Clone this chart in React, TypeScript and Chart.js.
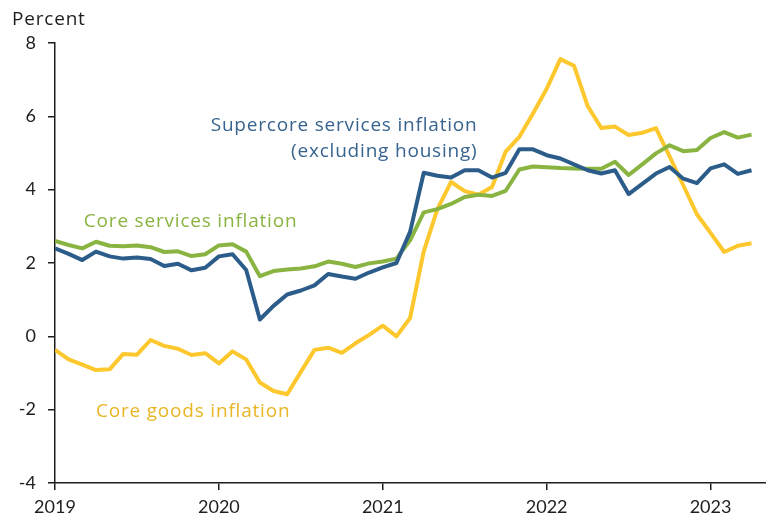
import React, { useEffect, useRef } from "react";
import { Chart, registerables } from "chart.js";

Chart.register(...registerables);

// Monthly observations, Jan 2019 .. Apr 2023
const startYear = 2019;
const monthCount = 52;

const supercore = [
  2.40, 2.25, 2.08, 2.31, 2.18, 2.12, 2.15, 2.11, 1.92, 1.98, 1.80, 1.87,
  2.18, 2.24, 1.81, 0.46, 0.83, 1.14, 1.25, 1.39, 1.70, 1.63, 1.57, 1.74,
  1.88, 2.00, 2.85, 4.46, 4.38, 4.33, 4.53, 4.53, 4.33, 4.46, 5.10, 5.10,
  4.94, 4.85, 4.69, 4.53, 4.44, 4.53, 3.88, 4.16, 4.44, 4.62, 4.30, 4.18,
  4.58, 4.69, 4.43, 4.53,
];

const coreServices = [
  2.60, 2.49, 2.40, 2.58, 2.47, 2.46, 2.48, 2.43, 2.30, 2.32, 2.19, 2.24,
  2.48, 2.51, 2.31, 1.64, 1.78, 1.82, 1.85, 1.91, 2.04, 1.98, 1.89, 1.99,
  2.04, 2.12, 2.62, 3.38, 3.47, 3.61, 3.80, 3.86, 3.83, 3.97, 4.55, 4.63,
  4.61, 4.59, 4.58, 4.57, 4.57, 4.76, 4.40, 4.69, 4.99, 5.21, 5.05, 5.08,
  5.41, 5.57, 5.42, 5.50,
];

const coreGoods = [
  -0.37, -0.63, -0.77, -0.92, -0.90, -0.48, -0.50, -0.10, -0.26, -0.34, -0.51, -0.46,
  -0.74, -0.41, -0.63, -1.26, -1.49, -1.58, -0.97, -0.37, -0.31, -0.45, -0.19, 0.04,
  0.29, 0.00, 0.50, 2.32, 3.47, 4.21, 3.96, 3.86, 4.07, 5.04, 5.44, 6.08,
  6.75, 7.56, 7.38, 6.28, 5.68, 5.72, 5.49, 5.55, 5.68, 4.91, 4.12, 3.33,
  2.82, 2.30, 2.47, 2.54,
];

const yTicks = [-4, -2, 0, 2, 4, 6, 8];
const xTicks = [2019, 2020, 2021, 2022, 2023];
const yAxisTitle = "Percent";

const BLUE = "#2c5d8a";
const GREEN = "#8ab441";
const YELLOW = "#fdc72e";
const BLUE_TEXT = "#36648f";
const GREEN_TEXT = "#8ab441";
const YELLOW_TEXT = "#e8b524";
const TEXT = "#1e1e1e";
const FONT = "Lato";
const LABEL_FONT = "'Open Sans'";

const seriesLabels = [
  { text: "Supercore services inflation", x: 2021.578, y: 5.75, align: "right", color: BLUE_TEXT },
  { text: "(excluding housing)", x: 2021.578, y: 5.04, align: "right", color: BLUE_TEXT },
  { text: "Core services inflation", x: 2019.176, y: 3.12, align: "left", color: GREEN_TEXT },
  { text: "Core goods inflation", x: 2019.25, y: -2.04, align: "left", color: YELLOW_TEXT },
];

const toPoints = (vals: number[]) =>
  vals.slice(0, monthCount).map((v, i) => ({ x: startYear + i / 12, y: v }));

export default function App() {
  const ref = useRef<HTMLCanvasElement | null>(null);

  useEffect(() => {
    document.body.style.margin = "0";
    const canvas = ref.current;
    if (!canvas) return;

    const annotationPlugin = {
      id: "annotations",
      afterDatasetsDraw(chart: any) {
        const ctx = chart.ctx;
        const xs = chart.scales.x;
        const ys = chart.scales.y;
        ctx.save();
        ctx.font = `19px ${LABEL_FONT}`;
        ctx.letterSpacing = "0.8px";
        ctx.textBaseline = "middle";
        for (const l of seriesLabels) {
          ctx.fillStyle = l.color;
          ctx.textAlign = l.align as CanvasTextAlign;
          ctx.fillText(l.text, xs.getPixelForValue(l.x), ys.getPixelForValue(l.y));
        }
        ctx.fillStyle = TEXT;
        ctx.textAlign = "left";
        ctx.fillText(yAxisTitle, 12, 20);
        ctx.restore();
      },
    };

    const chart = new Chart(canvas, {
      type: "line",
      data: {
        datasets: [
          { label: "Supercore", data: toPoints(supercore), borderColor: BLUE, order: 1 },
          { label: "Core services", data: toPoints(coreServices), borderColor: GREEN, order: 2 },
          { label: "Core goods", data: toPoints(coreGoods), borderColor: YELLOW, order: 3 },
        ].map((d) => ({
          ...d,
          borderWidth: 4,
          pointRadius: 0,
          tension: 0,
          fill: false,
          borderJoinStyle: "round" as const,
        })),
      },
      options: {
        animation: false,
        responsive: false,
        devicePixelRatio: 1,
        layout: { padding: { top: 43, right: 0, left: 0, bottom: 0 } },
        plugins: { legend: { display: false }, tooltip: { enabled: false } },
        scales: {
          x: {
            type: "linear",
            min: 2019,
            max: 2023 + 4 / 12 + 0.005,
            afterBuildTicks: (s: any) => {
              s.ticks = xTicks.map((v) => ({ value: v }));
            },
            afterFit: (s: any) => {
              s.height = 40;
            },
            grid: { drawOnChartArea: false, drawTicks: true, tickLength: 7, color: TEXT, lineWidth: 1.5 },
            border: { display: true, color: TEXT, width: 1.5 },
            ticks: {
              autoSkip: false,
              maxRotation: 0,
              padding: 6,
              color: TEXT,
              font: { family: FONT, size: 18 },
              callback: (v: any) => String(v),
            },
          },
          y: {
            type: "linear",
            min: -4,
            max: 8,
            afterBuildTicks: (s: any) => {
              s.ticks = yTicks.map((v) => ({ value: v }));
            },
            afterFit: (s: any) => {
              s.width = 55;
            },
            grid: { drawOnChartArea: false, drawTicks: true, tickLength: 7, color: TEXT, lineWidth: 1.5 },
            border: { display: true, color: TEXT, width: 1.5 },
            ticks: {
              padding: 12,
              color: TEXT,
              font: { family: FONT, size: 18 },
              callback: (v: any) => String(v),
            },
          },
        },
      },
      plugins: [annotationPlugin],
    });

    return () => chart.destroy();
  }, []);

  return (
    <div style={{ position: "fixed", left: 0, top: 0, width: 766, height: 523, background: "#fff" }}>
      <canvas ref={ref} width={766} height={523} style={{ width: 766, height: 523, display: "block" }} />
    </div>
  );
}
